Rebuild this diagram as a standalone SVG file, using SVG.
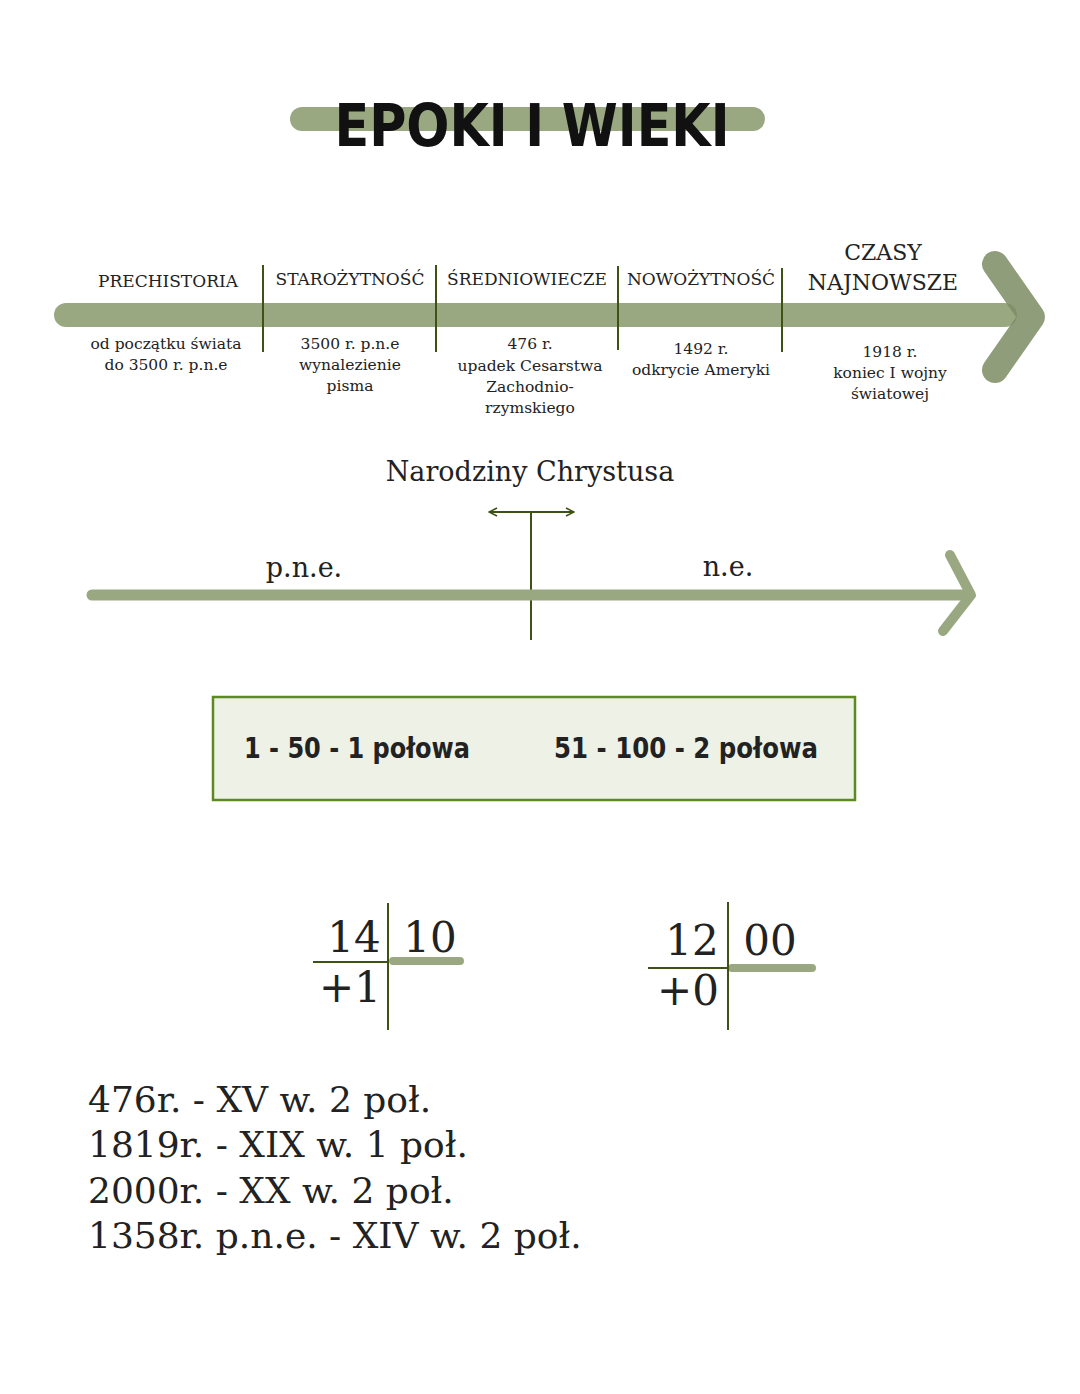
<svg xmlns="http://www.w3.org/2000/svg" width="1080" height="1394" viewBox="0 0 1080 1394">
<style>
.bar{stroke:#9aa882;stroke-linecap:round;fill:none}
.dk{stroke:#3d5214;stroke-width:2;fill:none}
.s{font-family:"DejaVu Serif","Liberation Serif",serif;fill:#222;text-anchor:middle}
.h{font-size:17px}
.d{font-size:15.5px}
.b{font-family:"DejaVu Sans Condensed","DejaVu Sans",sans-serif;font-weight:bold;font-size:28px;fill:#222;text-anchor:middle}
.big{font-family:"DejaVu Serif","Liberation Serif",serif;fill:#222}
</style>
<defs>
<marker id="ah" viewBox="0 0 10 10" refX="9" refY="5" markerWidth="10" markerHeight="10" markerUnits="userSpaceOnUse" orient="auto-start-reverse"><path d="M1,1 L9,5 L1,9" fill="none" stroke="#3d5214" stroke-width="1.5"/></marker>
</defs>
<rect width="1080" height="1394" fill="#fff"/>
<g id="title">
<line class="bar" x1="302" y1="119" x2="753" y2="119" stroke-width="24"/>
<text x="532" y="146" font-family="DejaVu Sans Condensed,DejaVu Sans,sans-serif" font-weight="bold" font-size="58" text-anchor="middle" fill="#111" textLength="395" lengthAdjust="spacingAndGlyphs">EPOKI I WIEKI</text>
</g>
<g id="timeline">
<line class="bar" x1="66" y1="315" x2="1005" y2="315" stroke-width="24"/>
<polyline points="995,264 1032,317 995,370" fill="none" stroke="#7d8c64" stroke-opacity="0.85" stroke-width="26" stroke-linecap="round" stroke-linejoin="round"/>
</g>
<g id="connectors">
<line class="dk" x1="263" y1="265" x2="263" y2="352"/>
<line class="dk" x1="436" y1="265" x2="436" y2="352"/>
<line class="dk" x1="618" y1="266" x2="618" y2="350"/>
<line class="dk" x1="782" y1="268" x2="782" y2="352"/>
<line class="dk" x1="489" y1="512" x2="574" y2="512" marker-start="url(#ah)" marker-end="url(#ah)"/>
<line class="dk" x1="531" y1="512" x2="531" y2="640"/>
</g>
<g id="prechistoria"><text class="s h" x="168" y="287">PRECHISTORIA</text><text class="s d" x="166" y="349">od początku świata</text><text class="s d" x="166" y="370">do 3500 r. p.n.e</text></g>
<g id="starozytnosc"><text class="s h" x="350" y="285">STAROŻYTNOŚĆ</text><text class="s d" x="350" y="349">3500 r. p.n.e</text><text class="s d" x="350" y="370">wynalezienie</text><text class="s d" x="350" y="391">pisma</text></g>
<g id="sredniowiecze"><text class="s h" x="527" y="285">ŚREDNIOWIECZE</text><text class="s d" x="530" y="349">476 r.</text><text class="s d" x="530" y="371">upadek Cesarstwa</text><text class="s d" x="530" y="392">Zachodnio-</text><text class="s d" x="530" y="413">rzymskiego</text></g>
<g id="nowozytnosc"><text class="s h" x="701" y="285">NOWOŻYTNOŚĆ</text><text class="s d" x="701" y="354">1492 r.</text><text class="s d" x="701" y="375">odkrycie Ameryki</text></g>
<g id="najnowsze"><text class="s" x="883" y="260" font-size="22">CZASY</text><text class="s" x="883" y="290" font-size="22">NAJNOWSZE</text><text class="s d" x="890" y="357">1918 r.</text><text class="s d" x="890" y="378">koniec I wojny</text><text class="s d" x="890" y="399">światowej</text></g>
<g id="era">
<text class="s" x="530" y="481" font-size="27">Narodziny Chrystusa</text>
<line class="bar" x1="92" y1="595" x2="968" y2="595" stroke-width="11"/>
<polyline points="950,555 971,595 943,631" fill="none" stroke="#9aa882" stroke-width="10" stroke-linecap="round" stroke-linejoin="round"/>
<text class="s" x="304" y="577" font-size="27">p.n.e.</text>
<text class="s" x="728" y="576" font-size="27">n.e.</text>
</g>
<g id="box">
<rect x="213" y="697" width="642" height="103" fill="#eef1e6" stroke="#5c8a20" stroke-width="2.5"/>
<text class="b" x="357" y="758" textLength="226" lengthAdjust="spacingAndGlyphs">1 - 50 - 1 połowa</text>
<text class="b" x="686" y="758" textLength="264" lengthAdjust="spacingAndGlyphs">51 - 100 - 2 połowa</text>
</g>
<g id="calc1">
<line class="bar" x1="393" y1="961" x2="460" y2="961" stroke-width="8"/>
<line class="dk" x1="388" y1="903" x2="388" y2="1030"/>
<line class="dk" x1="313" y1="962" x2="388" y2="962"/>
<text class="s" x="354" y="952" font-size="42">14</text>
<text class="s" x="430" y="952" font-size="42">10</text>
<text class="s" x="350" y="1002" font-size="42">+1</text>
</g>
<g id="calc2">
<line class="bar" x1="732" y1="968" x2="812" y2="968" stroke-width="8"/>
<line class="dk" x1="728" y1="902" x2="728" y2="1030"/>
<line class="dk" x1="648" y1="968" x2="728" y2="968"/>
<text class="s" x="692" y="955" font-size="42">12</text>
<text class="s" x="770" y="955" font-size="42">00</text>
<text class="s" x="688" y="1005" font-size="42">+0</text>
</g>
<g id="examples" font-size="36">
<text class="big" x="88" y="1112">476r. - XV w. 2 poł.</text>
<text class="big" x="88" y="1157">1819r. - XIX w. 1 poł.</text>
<text class="big" x="88" y="1203">2000r. - XX w. 2 poł.</text>
<text class="big" x="88" y="1248">1358r. p.n.e. - XIV w. 2 poł.</text>
</g>
</svg>
